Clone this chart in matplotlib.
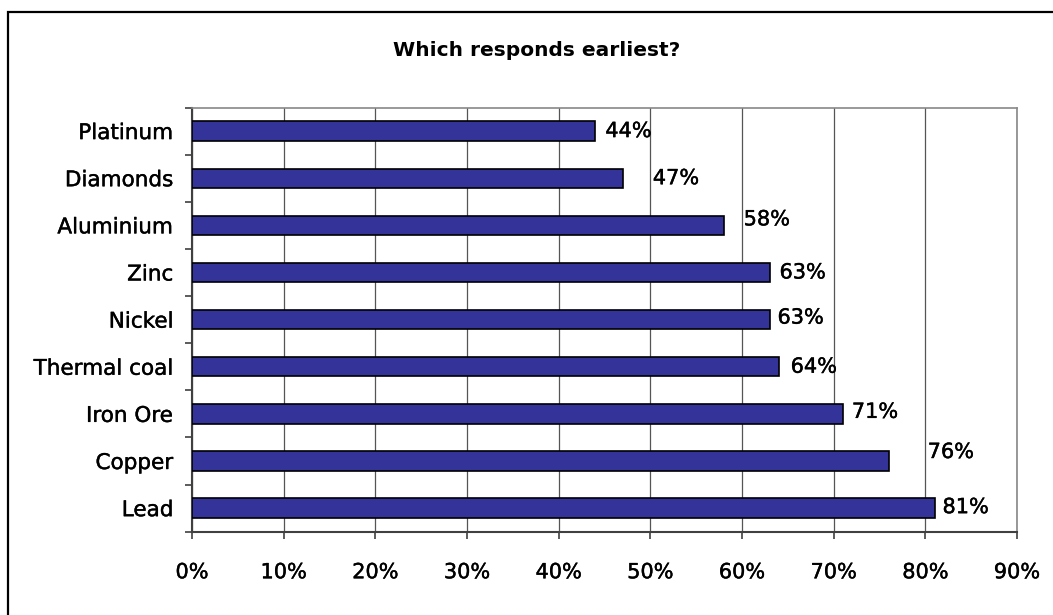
import matplotlib.pyplot as plt
import matplotlib.patches as patches
import matplotlib.patheffects as pe
import numpy as np

plt.rcParams['font.family'] = ['DejaVu Sans']

commodities = ["Platinum", "Diamonds", "Aluminium", "Zinc", "Nickel",
               "Thermal coal", "Iron Ore", "Copper", "Lead"]
shares = [44, 47, 58, 63, 63, 64, 71, 76, 81]
xtick_vals = [0, 10, 20, 30, 40, 50, 60, 70, 80, 90]

# hand-placed label nudges (pixels right, pixels up)
label_nudge = [(10, 0), (30, 0), (20, 6), (10, 0), (8, 2),
               (12, 0), (9, 2), (39, 9), (8, 1)]

# thickens the thin glyphs a little
heavy = [pe.withStroke(linewidth=0.3, foreground="black")]

fig = plt.figure(figsize=(10.53, 6.15), dpi=100)
ax = fig.add_axes([192/1053, 1-531.7/615, 825/1053, 424.2/615])

y = np.arange(len(commodities))
ax.barh(y, shares, height=0.41, color="#333399", edgecolor="black",
        linewidth=1.2, zorder=3)

for yi, v, (dx, dy) in zip(y, shares, label_nudge):
    ax.annotate(f"{v}%", (v, yi), xytext=(dx, dy), textcoords="offset pixels",
                ha="left", va="center", fontsize=15, color="black", zorder=4,
                path_effects=heavy)

ax.set_xlim(0, 90)
ax.set_ylim(len(commodities) - 0.5, -0.5)

ax.set_xticks(xtick_vals)
ax.set_xticklabels([f"{v}%" for v in xtick_vals], fontsize=15)
ax.tick_params(axis="x", length=5, width=1.2, color="#404040", pad=17)

# category boundaries carry the tick marks, centres carry the names
ax.set_yticks(np.arange(len(commodities) + 1) - 0.5)
ax.set_yticklabels([])
ax.tick_params(axis="y", which="major", length=5, width=1.2, color="#404040")
ax.set_yticks(y, minor=True)
ax.set_yticklabels(commodities, minor=True, fontsize=15.5)
ax.tick_params(axis="y", which="minor", length=0, pad=13.5)

for lbl in ax.get_xticklabels() + ax.get_yticklabels(minor=True):
    lbl.set_path_effects(heavy)

ax.grid(axis="x", color="#555555", linewidth=0.9, zorder=0)
ax.grid(axis="y", visible=False)

for side in ["left", "bottom"]:
    ax.spines[side].set_color("#404040")
    ax.spines[side].set_linewidth(1.5)
for side in ["top", "right"]:
    ax.spines[side].set_color("#888888")
    ax.spines[side].set_linewidth(1.2)

fig.text(537/1053, 1-50/615, "Which responds earliest?", ha="center",
         va="center", fontsize=14.5, fontweight="bold")

# chart frame, running off the right and bottom edges
frame = patches.Rectangle((8/1053, -0.2), 2, 0.2 + 1-12/615,
                          transform=fig.transFigure, fill=False,
                          edgecolor="black", linewidth=1.6, clip_on=False)
fig.patches.append(frame)

fig.savefig("out.png", dpi=100)
